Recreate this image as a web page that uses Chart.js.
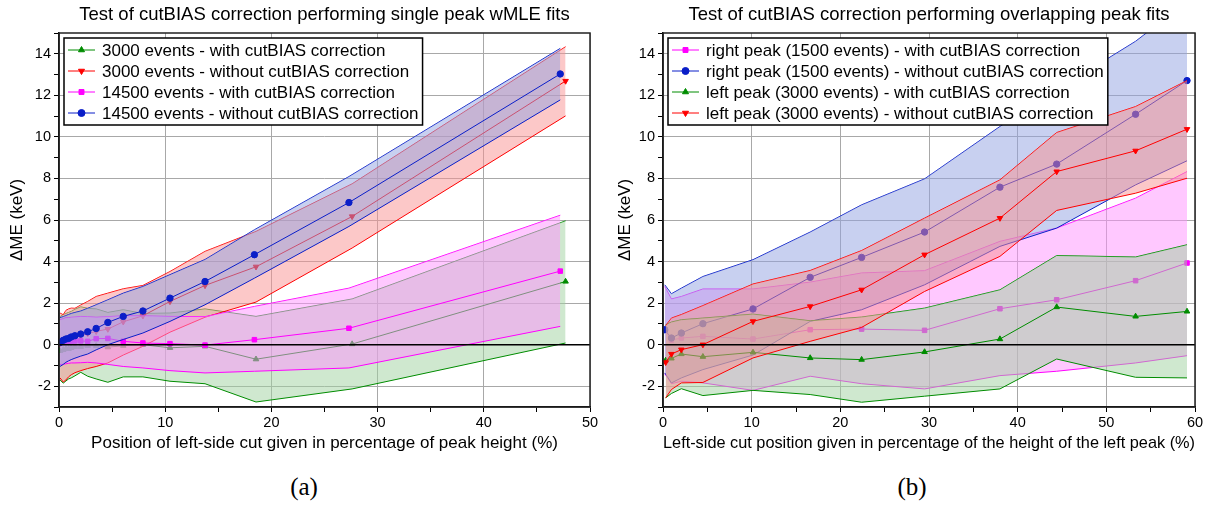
<!DOCTYPE html>
<html>
<head>
<meta charset="utf-8">
<script src="https://cdn.jsdelivr.net/npm/chart.js@4.4.1/dist/chart.umd.min.js"></script>
<style>
  body { margin: 0; background: #fff; width: 1217px; height: 505px; position: relative; overflow: hidden; }
  canvas { position: absolute; top: 0; }
  #chartA { left: 0; }
  #chartB { left: 608px; }
  .tag { position: absolute; top: 473px; width: 100px; text-align: center; font-family: 'Liberation Serif', serif; font-size: 25px; color: #000; }
</style>
</head>
<body>
<canvas id="chartA" width="608" height="460"></canvas>
<canvas id="chartB" width="609" height="460"></canvas>
<div class="tag" style="left:254px">(a)</div>
<div class="tag" style="left:862px">(b)</div>
<script>
const FONT = "'Liberation Sans', Arial, sans-serif";

// (a) single peak wMLE fits
const singleX3000  = [0.1, 0.4, 0.65, 0.9, 1.15, 1.5, 2.05, 2.7, 3.5, 4.6, 6.05, 7.9, 10.45, 13.75, 18.55, 27.6, 47.7];
const singleX14500 = [0.1, 0.4, 0.65, 0.9, 1.15, 1.5, 2.05, 2.7, 3.5, 4.6, 6.05, 7.9, 10.45, 13.75, 18.4, 27.3, 47.2];

const with3000     = [-0.3, -0.25, -0.2, -0.2, -0.15, -0.1, -0.1, -0.05, -0.05, -0.12, -0.05, 0.0, -0.15, -0.08, -0.7, 0.03, 3.04];
const with3000Hi   = [1.35, 1.45, 1.5, 1.55, 1.6, 1.7, 1.82, 1.75, 1.72, 1.55, 1.68, 1.5, 1.52, 1.72, 1.36, 2.2, 5.96];
const with3000Lo   = [-1.7, -1.85, -1.75, -1.65, -1.6, -1.5, -1.33, -1.52, -1.65, -1.81, -1.55, -1.55, -1.76, -1.88, -2.76, -2.13, 0.08];

const without3000   = [0.05, 0.15, 0.2, 0.25, 0.3, 0.35, 0.42, 0.53, 0.64, 0.75, 1.1, 1.39, 2.08, 2.85, 3.75, 6.17, 12.69];
const without3000Hi = [1.52, 1.44, 1.65, 1.72, 1.76, 1.75, 1.91, 2.08, 2.32, 2.48, 2.69, 2.85, 3.52, 4.49, 5.45, 7.74, 14.34];
const without3000Lo = [-1.6, -1.8, -1.7, -1.55, -1.45, -1.35, -1.25, -1.15, -1.05, -0.88, -0.5, -0.08, 0.6, 1.32, 2.05, 4.65, 11.01];

const with14500    = [0.1, 0.12, 0.14, 0.15, 0.17, 0.18, 0.18, 0.16, 0.29, 0.3, 0.16, 0.08, 0.05, -0.02, 0.24, 0.79, 3.54];
const with14500Hi  = [1.2, 1.25, 1.3, 1.3, 1.32, 1.33, 1.36, 1.35, 1.32, 1.35, 1.39, 1.39, 1.36, 1.35, 1.84, 2.72, 6.23];
const with14500Lo  = [-0.95, -0.95, -0.92, -0.9, -0.88, -0.88, -0.87, -0.85, -0.88, -0.95, -1.05, -1.12, -1.25, -1.36, -1.28, -1.12, 0.88];

const without14500   = [0.11, 0.21, 0.27, 0.3, 0.37, 0.43, 0.51, 0.62, 0.78, 1.07, 1.36, 1.62, 2.24, 3.04, 4.33, 6.84, 13.03];
const without14500Hi = [1.3, 1.35, 1.4, 1.45, 1.5, 1.55, 1.62, 1.75, 1.92, 2.16, 2.48, 2.8, 3.37, 4.1, 5.53, 8.09, 14.26];
const without14500Lo = [-1.05, -0.95, -0.85, -0.78, -0.72, -0.65, -0.55, -0.45, -0.25, 0.0, 0.25, 0.56, 1.12, 1.92, 3.2, 5.69, 11.78];

// (b) overlapping peak fits
const overlapXRight = [0.2, 0.95, 2.07, 4.5, 10.15, 16.6, 22.4, 29.5, 38.0, 44.4, 53.3, 59.1];
const overlapXLeft  = [0.3, 0.95, 2.07, 4.5, 10.15, 16.6, 22.4, 29.5, 38.0, 44.4, 53.3, 59.1];

const rightWith     = [0.7, 0.22, 0.32, 0.4, 0.27, 0.72, 0.75, 0.69, 1.73, 2.16, 3.08, 3.93];
const rightWithHi   = [2.8, 2.2, 2.32, 2.68, 2.68, 3.01, 3.45, 3.56, 4.97, 5.61, 7.05, 8.33];
const rightWithLo   = [-1.4, -1.88, -1.76, -1.84, -2.2, -1.52, -1.88, -2.13, -1.49, -1.28, -0.88, -0.53];

const rightWithout   = [0.72, 0.32, 0.56, 1.01, 1.72, 3.24, 4.2, 5.42, 7.58, 8.69, 11.09, 12.71];
const rightWithoutHi = [2.88, 2.45, 2.72, 3.28, 4.09, 5.42, 6.73, 7.98, 10.5, 12.25, 14.6, 16.5];
const rightWithoutLo = [-1.36, -1.84, -1.6, -1.2, -0.5, 1.12, 1.68, 2.88, 4.73, 5.61, 7.69, 8.85];

const leftWith     = [-0.76, -0.66, -0.45, -0.58, -0.37, -0.64, -0.72, -0.35, 0.27, 1.81, 1.36, 1.6];
const leftWithHi   = [0.96, 1.09, 1.2, 1.28, 1.47, 1.15, 1.33, 1.76, 2.64, 4.29, 4.22, 4.81];
const leftWithLo   = [-2.56, -2.35, -2.12, -2.45, -2.2, -2.4, -2.77, -2.48, -2.13, -0.69, -1.57, -1.6];

const leftWithout   = [-0.85, -0.45, -0.24, 0.0, 1.12, 1.84, 2.64, 4.33, 6.09, 8.33, 9.33, 10.37];
const leftWithoutHi = [0.91, 1.28, 1.45, 1.88, 2.92, 3.57, 4.53, 6.09, 7.93, 10.21, 11.46, 12.71];
const leftWithoutLo = [-2.56, -2.16, -1.84, -1.82, -0.64, 0.16, 0.83, 2.56, 4.25, 6.46, 7.29, 8.01];

const GREEN = '#008c00', RED = '#ff0000', MAGENTA = '#ff00ff', BLUE = '#0a1ec8';
const FILL = {
  [GREEN]: 'rgba(159,209,159,0.5)',
  [RED]: 'rgba(249,145,145,0.5)',
  [MAGENTA]: 'rgba(255,145,255,0.5)',
  [BLUE]: 'rgba(145,161,225,0.5)'
};

const pts = (xs, ys) => xs.map((x, i) => ({ x, y: ys[i] }));

// upper bound, lower bound filled to it, then the mean line with markers
function band(label, xs, mid, hi, lo, color, pointStyle, rot) {
  return [
    { data: pts(xs, hi), borderColor: color, borderWidth: 1, pointRadius: 0, fill: false },
    { data: pts(xs, lo), borderColor: color, borderWidth: 1, pointRadius: 0, fill: '-1', backgroundColor: FILL[color] },
    { label, data: pts(xs, mid), borderColor: color, backgroundColor: color, borderWidth: 1,
      pointRadius: 3.2, pointStyle, pointRotation: rot || 0, fill: false }
  ];
}

const frame = {
  id: 'frame',
  afterDatasetsDraw(chart) {
    const { ctx, chartArea: a, scales } = chart;
    const y0 = scales.y.getPixelForValue(0);
    ctx.save();
    ctx.strokeStyle = '#000';
    ctx.lineWidth = 1.5;
    ctx.beginPath(); ctx.moveTo(a.left, y0); ctx.lineTo(a.right, y0); ctx.stroke();
    ctx.strokeStyle = '#222';
    ctx.strokeRect(a.left, a.top, a.right - a.left, a.bottom - a.top);
    ctx.restore();
  },
  afterDraw(chart) {
    const { ctx, chartArea: a } = chart;
    const items = chart.data.datasets.filter(d => d.label);
    ctx.save();
    ctx.font = '17px ' + FONT;
    const tw = Math.max(...items.map(d => ctx.measureText(d.label).width));
    const x0 = a.left + 5, y0 = a.top + 5, w = 38 + tw + 4, h = 87;
    ctx.fillStyle = '#fff';
    ctx.fillRect(x0, y0, w, h);
    ctx.strokeStyle = '#000';
    ctx.lineWidth = 1.5;
    ctx.strokeRect(x0, y0, w, h);
    items.forEach((d, i) => {
      const y = y0 + 12 + i * 21;
      ctx.strokeStyle = d.borderColor;
      ctx.fillStyle = d.borderColor;
      ctx.lineWidth = 1;
      ctx.beginPath(); ctx.moveTo(x0 + 4, y); ctx.lineTo(x0 + 31, y); ctx.stroke();
      Chart.helpers.drawPoint(ctx, { pointStyle: d.pointStyle, radius: 3.5, rotation: d.pointRotation, borderWidth: 1 }, x0 + 17.5, y);
      ctx.fillStyle = '#000';
      ctx.textBaseline = 'middle';
      ctx.fillText(d.label, x0 + 38, y + 1);
    });
    ctx.restore();
  }
};

function makeChart(id, title, xMax, xTitle, yWidth, padRight, datasets) {
  datasets.forEach((d, i) => { d.order = 100 - i; d.tension = 0; });
  const tickFont = { family: FONT, size: 14.5 };
  return new Chart(document.getElementById(id), {
    type: 'line',
    data: { datasets },
    options: {
      responsive: false,
      animation: false,
      layout: { padding: { left: 0, right: padRight, top: 0, bottom: 0 } },
      plugins: {
        legend: { display: false },
        tooltip: { enabled: false },
        title: {
          display: true, text: title, fullSize: false, color: '#000',
          font: { family: FONT, size: 18.5, weight: 'normal' },
          padding: { top: 4, bottom: 6.8 }
        }
      },
      scales: {
        x: {
          type: 'linear', min: 0, max: xMax,
          afterFit: s => { s.height = 53; },
          ticks: { stepSize: 5, autoSkip: false, maxRotation: 0, color: '#000', font: tickFont, padding: 2,
                   callback: v => v % 10 === 0 ? String(v) : '' },
          grid: { color: c => c.tick && c.tick.value % 10 === 0 ? '#a8a8a8' : 'rgba(0,0,0,0)',
                  tickColor: '#000', tickLength: 5 },
          border: { color: '#000', width: 1.5 },
          title: { display: true, text: xTitle, color: '#000', font: { family: FONT, size: 17 },
                   padding: { top: 0, bottom: 6.8 } }
        },
        y: {
          min: -3, max: 15,
          afterFit: s => { s.width = yWidth; },
          ticks: { stepSize: 1, autoSkip: false, color: '#000', font: tickFont, padding: 3,
                   callback: v => v % 2 === 0 ? String(v) : '' },
          grid: { color: c => c.tick && c.tick.value % 2 === 0 ? '#a8a8a8' : 'rgba(0,0,0,0)',
                  tickColor: '#000', tickLength: 5 },
          border: { color: '#000', width: 1.5 },
          title: { display: true, text: 'ΔME (keV)', color: '#000', font: { family: FONT, size: 17 },
                   padding: { top: 7.5 } }
        }
      }
    },
    plugins: [frame]
  });
}

makeChart('chartA', 'Test of cutBIAS correction performing single peak wMLE fits', 50,
  'Position of left-side cut given in percentage of peak height (%)', 59, 18, [
    ...band('3000 events - with cutBIAS correction', singleX3000, with3000, with3000Hi, with3000Lo, GREEN, 'triangle', 0),
    ...band('3000 events - without cutBIAS correction', singleX3000, without3000, without3000Hi, without3000Lo, RED, 'triangle', 180),
    ...band('14500 events - with cutBIAS correction', singleX14500, with14500, with14500Hi, with14500Lo, MAGENTA, 'rect', 0),
    ...band('14500 events - without cutBIAS correction', singleX14500, without14500, without14500Hi, without14500Lo, BLUE, 'circle', 0)
  ]);

makeChart('chartB', 'Test of cutBIAS correction performing overlapping peak fits', 60,
  'Left-side cut position given in percentage of the height of the left peak (%)', 55, 22, [
    ...band('right peak (1500 events) - with cutBIAS correction', overlapXRight, rightWith, rightWithHi, rightWithLo, MAGENTA, 'rect', 0),
    ...band('right peak (1500 events) - without cutBIAS correction', overlapXRight, rightWithout, rightWithoutHi, rightWithoutLo, BLUE, 'circle', 0),
    ...band('left peak (3000 events) - with cutBIAS correction', overlapXLeft, leftWith, leftWithHi, leftWithLo, GREEN, 'triangle', 0),
    ...band('left peak (3000 events) - without cutBIAS correction', overlapXLeft, leftWithout, leftWithoutHi, leftWithoutLo, RED, 'triangle', 180)
  ]);
</script>
</body>
</html>
